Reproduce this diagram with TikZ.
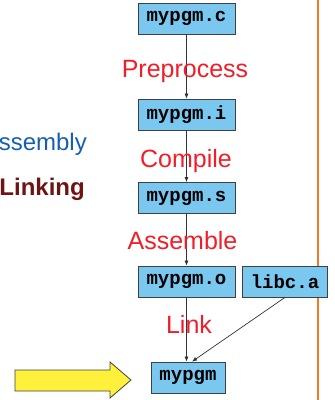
\documentclass[tikz,border=0pt]{standalone}
\usepackage{fontspec}
\setmainfont{Liberation Sans}
\setmonofont{Liberation Mono}
\usepackage{tikz}
\usetikzlibrary{arrows.meta}
\definecolor{boxblue}{RGB}{122,200,240}
\definecolor{steplabel}{RGB}{240,30,40}
\definecolor{asmblue}{RGB}{20,95,175}
\definecolor{linkred}{RGB}{110,20,20}
\definecolor{rulerorange}{RGB}{240,120,40}
\definecolor{hiliteyellow}{RGB}{255,240,60}
\tikzset{
  filebox/.style={draw=black!75,fill=boxblue,line width=.8pt,inner xsep=8.5pt,
    minimum height=31pt,font=\fontsize{19}{19}\selectfont\ttfamily\bfseries},
  steptext/.style={text=steplabel,anchor=base,font=\fontsize{25}{25}\selectfont},
  flow/.style={draw=black!80,line width=.7pt,-{Latex[length=5pt,width=4pt]}}
}
\begin{document}
\begin{tikzpicture}[x=1pt,y=-1pt]
\useasboundingbox (0,0) rectangle (335,400);
\draw[rulerorange,line width=2pt] (318,0) -- (318,400);
% files
\node[filebox] (c) at (186.5,18.5) {mypgm.c};
\node[filebox] (i) at (186.5,114.5) {mypgm.i};
\node[filebox] (s) at (186.5,198) {mypgm.s};
\node[filebox] (o) at (186.5,281.5) {mypgm.o};
\node[filebox] (libc) at (285,281.5) {libc.a};
\node[filebox] (exe) at (188,377.5) {mypgm};
% steps
\draw[flow] (c) -- (i);
\draw[flow] (i) -- (s);
\draw[flow] (s) -- (o);
\draw[flow] (o) -- (exe.north -| o);
\draw[flow] (libc.south) -- ([xshift=4pt]exe.north);
\node[steptext] (pre) at (185,77) {Preprocess};
\node[steptext] (comp) at (186,167) {Compile};
\node[steptext] (asm) at (182.5,249) {Assemble};
\node[steptext] (link) at (189,333) {Link};
% left side
\node[anchor=base east,text=asmblue,font=\fontsize{24}{24}\selectfont,inner sep=0pt] (asmy) at (87,150) {ssembly};
\node[anchor=base east,text=linkred,font=\fontsize{24}{24}\selectfont\bfseries,inner sep=0pt] (lnk) at (85,195) {Linking};
\draw[fill=hiliteyellow,draw=black!75,line width=.8pt]
  (15,370) -- (110,370) -- (110,362) -- (131,380) -- (110,398) -- (110,391) -- (15,391) -- cycle;
\end{tikzpicture}
\end{document}
